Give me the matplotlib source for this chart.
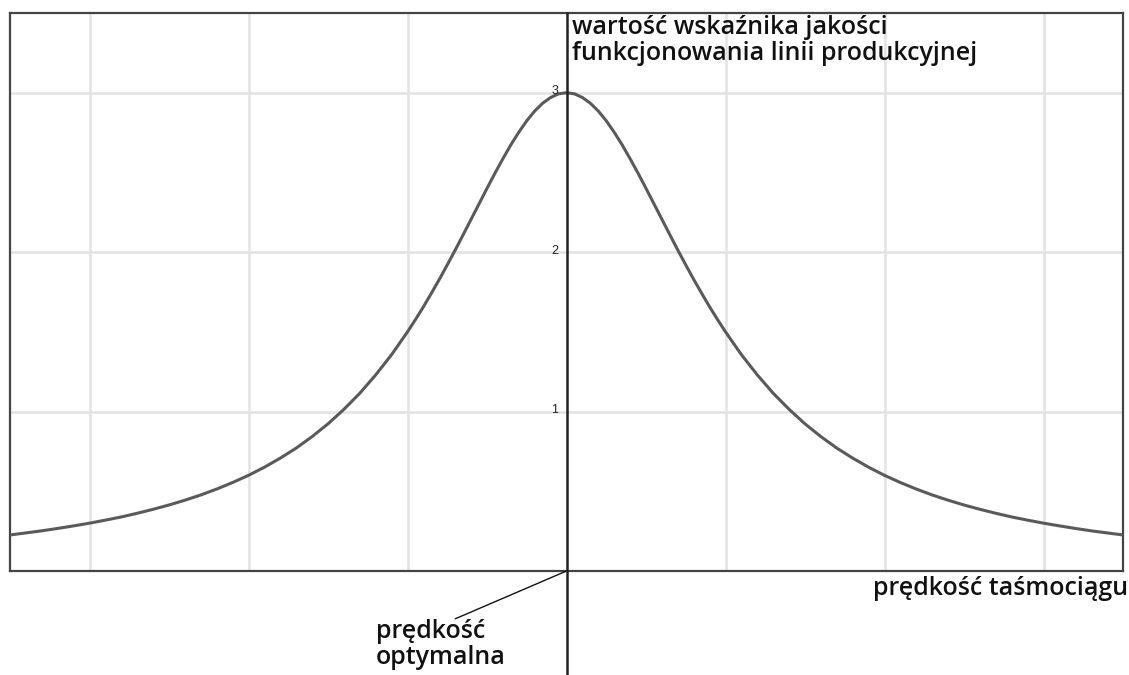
import matplotlib
matplotlib.use("Agg")
import matplotlib.pyplot as plt

x_vals = [-3.5, -3.4, -3.3, -3.2, -3.1, -3.0, -2.9, -2.8, -2.7, -2.6, -2.5, -2.4, -2.3, -2.2, -2.1,
          -2.0, -1.9, -1.8, -1.7, -1.6, -1.5, -1.4, -1.3, -1.2, -1.1, -1.0, -0.95, -0.9, -0.85,
          -0.8, -0.75, -0.7, -0.65, -0.6, -0.55, -0.5, -0.45, -0.4, -0.35, -0.3, -0.25, -0.2,
          -0.15, -0.1, -0.05, 0.0, 0.05, 0.1, 0.15, 0.2, 0.25, 0.3, 0.35, 0.4, 0.45, 0.5, 0.55,
          0.6, 0.65, 0.7, 0.75, 0.8, 0.85, 0.9, 0.95, 1.0,
          1.1, 1.2, 1.3, 1.4, 1.5, 1.6, 1.7, 1.8, 1.9, 2.0, 2.1, 2.2, 2.3, 2.4, 2.5, 2.6, 2.7,
          2.8, 2.9, 3.0, 3.1, 3.2, 3.3, 3.4, 3.5]
y_vals = [0.226, 0.239, 0.252, 0.267, 0.283, 0.300, 0.319, 0.339, 0.362, 0.387, 0.414, 0.444,
          0.477, 0.514, 0.555, 0.600, 0.651, 0.708, 0.771, 0.843, 0.923, 1.014, 1.115, 1.230,
          1.357, 1.500, 1.577, 1.657, 1.742, 1.829, 1.920, 2.013, 2.109, 2.206, 2.303, 2.400,
          2.495, 2.586, 2.673, 2.752, 2.824, 2.885, 2.934, 2.970, 2.993, 3.000,
          2.993, 2.970, 2.934, 2.885, 2.824, 2.752, 2.673, 2.586, 2.495, 2.400, 2.303, 2.206,
          2.109, 2.013, 1.920, 1.829, 1.742, 1.657, 1.577, 1.500,
          1.357, 1.230, 1.115, 1.014, 0.923, 0.843, 0.771, 0.708, 0.651, 0.600, 0.555, 0.514,
          0.477, 0.444, 0.414, 0.387, 0.362, 0.339, 0.319, 0.300, 0.283, 0.267, 0.252, 0.239,
          0.226]
grid_x = [-3, -2, -1, 1, 2, 3]
grid_y = [1, 2, 3]
y_tick_labels = ["1", "2", "3"]
y_title = "wartość wskaźnika jakości\nfunkcjonowania linii produkcyjnej"
x_title = "prędkość taśmociągu"
origin_label = "prędkość\noptymalna"

W, H = 1129, 675
fig = plt.figure(figsize=(W / 100, H / 100), dpi=100)
ax = fig.add_axes([10 / W, 1 - 571 / H, 1113 / W, 558 / H])
ax.set_xlim(-3.5, 3.5)
ax.set_ylim(0, 3.5)
ax.set_xticks([])
ax.set_yticks([])
for s in ax.spines.values():
    s.set_color("#444444")
    s.set_linewidth(1.6)

for gx in grid_x:
    ax.axvline(gx, color="#e3e3e3", lw=1.8, zorder=0)
for gy in grid_y:
    ax.axhline(gy, color="#e3e3e3", lw=1.8, zorder=0)

ax.plot(x_vals, y_vals, color="#5a5a5a", lw=2.2, zorder=3, solid_joinstyle="round")

# y axis, extending below the x axis to the figure bottom
ax.plot([0, 0], [-0.75, 3.5], color="#222222", lw=1.8, clip_on=False, zorder=4)

for gy, lab in zip(grid_y, y_tick_labels):
    ax.text(-0.05, gy + 0.01, lab, ha="right", va="center", fontsize=9,
            family="Liberation Sans", color="#222222")

font = dict(family="Open Sans", fontweight="semibold", fontsize=18, color="#111111")
ax.text(0.035, 3.49, y_title, ha="left", va="top", linespacing=1.08, **font)
ax.text(3.535, -0.03, x_title, ha="right", va="top", clip_on=False, **font)
ax.text(-1.2, -0.3, origin_label, ha="left", va="top", linespacing=1.08, clip_on=False, **font)
ax.annotate("", xy=(0, 0), xytext=(-0.70, -0.30), annotation_clip=False,
            arrowprops=dict(arrowstyle="-", color="#111111", lw=1.0, shrinkA=0, shrinkB=0))

fig.savefig("out.png", dpi=100)
